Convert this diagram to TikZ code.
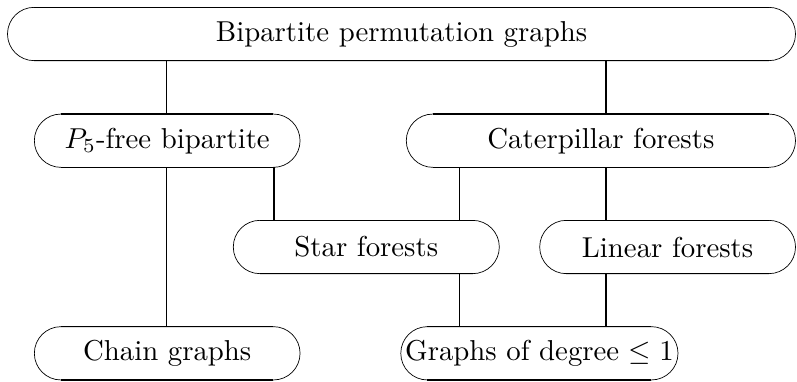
\documentclass[tikz,border=0pt]{standalone}
\usepackage{graphicx}
\usetikzlibrary{calc}
\newcommand{\lbl}[1]{\scalebox{2.88}{#1}}
\tikzset{
  pill/.style={draw, line width=0.7pt, rounded corners=26.6pt, minimum height=53.3pt, inner sep=0pt, outer sep=0pt, anchor=center},
  conn/.style={line width=1.3pt},
  edgeline/.style={line width=1.3pt}
}
\begin{document}
\begin{tikzpicture}[x=1pt,y=-1pt]
\useasboundingbox (0,0) rectangle (797,381);
\node[pill, minimum width=788pt] (top) at (401.5,34) {\lbl{Bipartite permutation graphs}};
\node[pill, minimum width=265.7pt] (p5) at (167.2,140.7) {\lbl{$P_5$-free bipartite}};
\node[pill, minimum width=389.2pt] (cat) at (600.9,140.7) {\lbl{Caterpillar forests}};
\node[pill, minimum width=266pt] (star) at (366.3,247) {\lbl{Star forests}};
\node[pill, minimum width=255.8pt] (lin) at (667.6,247) {\lbl{Linear forests}};
\node[pill, minimum width=265.7pt] (chain) at (167.2,353.3) {\lbl{Chain graphs}};
\node[pill, minimum width=277.2pt] (deg) at (539.4,353.3) {\lbl{Graphs of degree $\leq 1$}};
\foreach \n in {top,p5,cat,star,lin,chain,deg}{
  \draw[edgeline] ($(\n.north west)+(26.6,0)$) -- ($(\n.north east)+(-26.6,0)$);
  \draw[edgeline] ($(\n.south west)+(26.6,0)$) -- ($(\n.south east)+(-26.6,0)$);
}
\coordinate (ca) at (166.7,0);
\coordinate (cb) at (274,0);
\coordinate (cc) at (459.7,0);
\coordinate (cd) at (606,0);
\draw[conn] (top.south -| ca) -- (p5.north -| ca);
\draw[conn] (top.south -| cd) -- (cat.north -| cd);
\draw[conn] (p5.south -| cb) -- (star.north -| cb);
\draw[conn] (p5.south -| ca) -- (chain.north -| ca);
\draw[conn] (cat.south -| cc) -- (star.north -| cc);
\draw[conn] (cat.south -| cd) -- (lin.north -| cd);
\draw[conn] (star.south -| cc) -- (deg.north -| cc);
\draw[conn] (lin.south -| cd) -- (deg.north -| cd);
\end{tikzpicture}
\end{document}
